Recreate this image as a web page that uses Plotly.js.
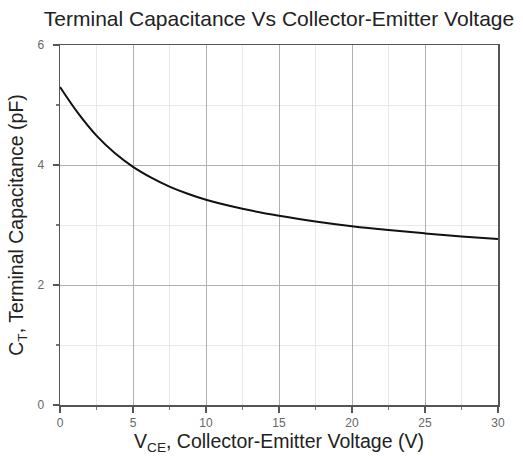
<!DOCTYPE html>
<html>
<head>
<meta charset="utf-8">
<script src="https://cdn.plot.ly/plotly-3.0.1.min.js"></script>
<style>html,body{margin:0;padding:0;background:#fff;}#chart{width:523px;height:456px;}</style>
</head>
<body>
<div id="chart"></div>
<script>
const vce = [0, 1.25, 2.5, 3.75, 5, 6.25, 7.5, 8.75, 10, 12.5, 15, 17.5, 20, 22.5, 25, 27.5, 30];
const capacitance = [5.30, 4.86, 4.49, 4.20, 3.97, 3.79, 3.64, 3.52, 3.42, 3.27, 3.155, 3.06, 2.98, 2.915, 2.86, 2.81, 2.765];
const xTicks = [0, 5, 10, 15, 20, 25, 30];
const yTicks = [0, 2, 4, 6];

const trace = {
  x: vce, y: capacitance, type: 'scatter', mode: 'lines',
  line: {color: '#111', width: 2, shape: 'spline', smoothing: 1},
  hoverinfo: 'skip'
};
const font = {family: 'Liberation Sans, Arial, sans-serif', color: '#222'};
const layout = {
  width: 523, height: 456,
  margin: {l: 60, r: 25, t: 45, b: 51},
  paper_bgcolor: '#fff', plot_bgcolor: '#fff',
  showlegend: false,
  font: font,
  title: {text: 'Terminal Capacitance Vs Collector-Emitter Voltage', x: 0.5, xref: 'paper', xanchor: 'center', y: 0.96, yref: 'container', yanchor: 'middle', font: {family: font.family, size: 21, color: '#222'}},
  xaxis: {
    range: [0, 30], tickvals: xTicks, ticktext: xTicks.map(String),
    ticks: 'outside', ticklen: 6, tickwidth: 1.5, tickcolor: '#555',
    showline: true, linecolor: '#555', linewidth: 1.5, mirror: true,
    showgrid: true, gridcolor: '#b0b0b0', gridwidth: 1, zeroline: false,
    tickfont: {size: 12, color: '#666'},
    minor: {dtick: 2.5, tick0: 0, ticks: 'outside', ticklen: 3, tickcolor: '#777', showgrid: true, gridcolor: '#e8e8e8'},
    title: {text: 'V<sub>CE</sub>, Collector-Emitter Voltage (V)', font: {size: 19.5, color: '#222'}, standoff: 4}
  },
  yaxis: {
    range: [0, 6], tickvals: yTicks, ticktext: yTicks.map(String),
    ticks: 'outside', ticklen: 6, tickwidth: 1.5, tickcolor: '#555',
    showline: true, linecolor: '#555', linewidth: 1.5, mirror: true,
    showgrid: true, gridcolor: '#b0b0b0', gridwidth: 1, zeroline: false,
    tickfont: {size: 12, color: '#666'},
    ticklabelstandoff: 6,
    minor: {dtick: 1, tick0: 0, ticks: 'outside', ticklen: 3, tickcolor: '#777', showgrid: true, gridcolor: '#e8e8e8'},
    title: {text: 'C<sub>T</sub>, Terminal Capacitance (pF)', font: {size: 19.5, color: '#222'}, standoff: 8}
  }
};
Plotly.newPlot('chart', [trace], layout, {displayModeBar: false, staticPlot: true});
</script>
</body>
</html>
